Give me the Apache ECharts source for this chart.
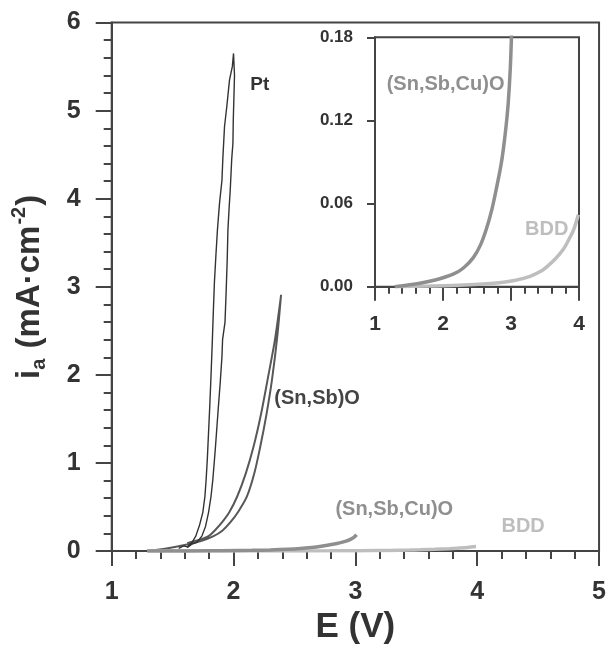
<!DOCTYPE html>
<html>
<head>
<meta charset="utf-8">
<script src="https://cdn.jsdelivr.net/npm/echarts@6/dist/echarts.min.js"></script>
<style>html,body{margin:0;padding:0;background:#fff}#c{width:609px;height:650px}</style>
</head>
<body>
<div id="c"></div>
<script>
// ---- data (E in V, i in mA/cm2) ----
const ptLoop = [
  [1.55,0.03],[1.59,0.06],[1.62,0.05],[1.66,0.10],[1.69,0.17],[1.72,0.29],[1.748,0.44],[1.765,0.62],[1.775,0.81],
  [1.785,1.05],[1.795,1.35],[1.805,1.65],[1.814,1.95],[1.825,2.35],[1.835,2.75],[1.843,3.05],[1.855,3.35],
  [1.868,3.65],[1.885,3.95],[1.905,4.21],[1.912,4.45],[1.926,4.82],[1.945,5.05],
  [1.967,5.35],[1.99,5.5],[2.0,5.65],[2.008,5.4],[2.004,5.2],[1.998,4.9],[1.995,4.63],[1.985,4.45],
  [1.973,4.10],[1.964,3.9],[1.954,3.65],[1.948,3.3],[1.94,2.97],[1.93,2.6],[1.91,2.4],[1.905,2.21],
  [1.89,1.9],[1.872,1.57],[1.85,1.15],[1.83,0.81],[1.815,0.62],[1.795,0.44],[1.77,0.28],[1.74,0.17],
  [1.70,0.10],[1.66,0.08],[1.62,0.04]
];
const snsbLoop = [
  [1.30,0.0],[1.45,0.03],[1.60,0.07],[1.726,0.11],[1.836,0.17],[1.91,0.235],[1.973,0.325],[2.04,0.45],
  [2.11,0.62],[2.17,0.88],[2.22,1.19],[2.27,1.55],[2.316,1.95],[2.36,2.45],[2.39,2.91],[2.385,2.85],
  [2.34,2.4],[2.28,1.95],[2.225,1.55],[2.165,1.19],[2.10,0.88],[2.03,0.62],[1.965,0.44],[1.905,0.325],
  [1.85,0.24],[1.795,0.17],[1.70,0.12],[1.62,0.09]
];
const snsbcu = [
  [1.29,0],[1.66,0.0025],[1.9,0.005],[2.15,0.009],[2.3,0.0135],[2.446,0.021],[2.55,0.03],
  [2.64,0.042],[2.72,0.056],[2.79,0.072],[2.85,0.087],[2.887,0.099],[2.93,0.117],[2.96,0.133],
  [2.99,0.158],[3.01,0.185]
];
const bdd = [
  [1.30,0],[1.8,0.0005],[2.3,0.0012],[2.79,0.0026],[3.05,0.0045],[3.28,0.0075],[3.45,0.0115],
  [3.53,0.0145],[3.65,0.02],[3.77,0.027],[3.85,0.034],[3.92,0.041],[3.99,0.052]
];
const mainXTicks = [1, 5, 1];      // min, max, interval
const mainYTicks = [0, 6, 1];
const insetXTicks = [1, 4, 1];
const insetYTicks = [0, 0.18, 0.06];
const seriesNames = ['Pt', '(Sn,Sb)O', '(Sn,Sb,Cu)O', 'BDD'];

const FONT = 'Liberation Sans, Arial, sans-serif';
const AX = '#444';
const TXT = '#333';
const colPt = '#333333', colSnSb = '#585858', colCu = '#8f8f8f', colBDD = '#bebebe';

function axisCommon(range, labelSize, tickLen, minorLen, margin, minor) {
  return {
    type: 'value', min: range[0], max: range[1], interval: range[2],
    axisLine: {show: true, onZero: false, lineStyle: {color: AX, width: 2}},
    axisTick: {show: true, inside: false, length: tickLen, lineStyle: {color: AX, width: 2}},
    minorTick: {show: minor, splitNumber: 5, length: minorLen, lineStyle: {color: AX, width: 2}},
    splitLine: {show: false}, minorSplitLine: {show: false},
    axisLabel: {color: TXT, fontFamily: FONT, fontWeight: 'bold', fontSize: labelSize, margin: margin}
  };
}
function lab(text, coord, color, size) {
  return {coord: coord, symbolSize: 0, label: {show: true, position: 'right', distance: 0,
    formatter: text, color: color, fontFamily: FONT, fontWeight: 'bold', fontSize: size}};
}
const lineBase = {type: 'line', showSymbol: false, symbol: 'none', animation: false};

const chart = echarts.init(document.getElementById('c'), null, {renderer: 'canvas'});
const option = {
  backgroundColor: '#fff',
  animation: false,
  grid: [
    {left: 111.7, right: 7, top: 22.6, bottom: 98.3, show: true, borderColor: AX, borderWidth: 2, containLabel: false},
    {left: 375, right: 30, top: 37.3, bottom: 363.3, show: true, borderColor: AX, borderWidth: 2, containLabel: false}
  ],
  xAxis: [
    Object.assign(axisCommon(mainXTicks, 25, 15, 8, 29, true), {gridIndex: 0,
      name: 'E (V)', nameLocation: 'middle', nameGap: 58,
      nameTextStyle: {color: TXT, fontFamily: FONT, fontWeight: 'bold', fontSize: 35}}),
    Object.assign(axisCommon(insetXTicks, 21, 14, 7, 27, true), {gridIndex: 1})
  ],
  yAxis: [
    Object.assign(axisCommon(mainYTicks, 25, 16, 8, 31, true), {gridIndex: 0,
      name: '{b|i}{sub|a}{b| (mA·cm}{sup|-2}{b|)}', nameLocation: 'middle', nameGap: 62, nameRotate: 90,
      nameTextStyle: {color: TXT, fontFamily: FONT, fontWeight: 'bold', fontSize: 33,
        rich: {
          b: {color: TXT, fontFamily: FONT, fontWeight: 'bold', fontSize: 33, lineHeight: 40, verticalAlign: 'middle'},
          sub: {color: TXT, fontFamily: FONT, fontWeight: 'bold', fontSize: 20, lineHeight: 40, verticalAlign: 'bottom', padding: [0, 1, 0, 0]},
          sup: {color: TXT, fontFamily: FONT, fontWeight: 'bold', fontSize: 20, lineHeight: 40, verticalAlign: 'top', padding: [0, 1, 0, 1]}
        }}}),
    Object.assign(axisCommon(insetYTicks, 17, 8, 4, 22, false), {gridIndex: 1,
      axisLabel: {color: TXT, fontFamily: FONT, fontWeight: 'bold', fontSize: 17, margin: 22,
        formatter: v => v.toFixed(2)}})
  ],
  series: [
    Object.assign({}, lineBase, {name: seriesNames[1], xAxisIndex: 0, yAxisIndex: 0, data: snsbLoop,
      smooth: 0.3, lineStyle: {color: colSnSb, width: 2},
      markPoint: {animation: false, data: [lab('(Sn,Sb)O', [2.335, 1.73], '#444', 20)]}}),
    Object.assign({}, lineBase, {name: seriesNames[0], xAxisIndex: 0, yAxisIndex: 0, data: ptLoop,
      smooth: false, lineStyle: {color: colPt, width: 1.4},
      markPoint: {animation: false, data: [lab('Pt', [2.137, 5.29], '#333', 19)]}}),
    Object.assign({}, lineBase, {name: seriesNames[3], xAxisIndex: 0, yAxisIndex: 0, data: bdd,
      smooth: 0.3, lineStyle: {color: colBDD, width: 3.5},
      markPoint: {animation: false, data: [lab('BDD', [4.199, 0.274], colBDD, 20)]}}),
    Object.assign({}, lineBase, {name: seriesNames[2], xAxisIndex: 0, yAxisIndex: 0, data: snsbcu,
      smooth: 0.3, lineStyle: {color: colCu, width: 3.5},
      markPoint: {animation: false, data: [lab('(Sn,Sb,Cu)O', [2.836, 0.473], colCu, 20)]}}),
    Object.assign({}, lineBase, {name: seriesNames[3] + ' inset', xAxisIndex: 1, yAxisIndex: 1, data: bdd,
      smooth: 0.3, lineStyle: {color: colBDD, width: 3.5}, clip: true,
      markPoint: {animation: false, data: [lab('BDD', [3.206, 0.0416], colBDD, 20)]}}),
    Object.assign({}, lineBase, {name: seriesNames[2] + ' inset', xAxisIndex: 1, yAxisIndex: 1, data: snsbcu,
      smooth: 0.3, lineStyle: {color: colCu, width: 3.5}, clip: true,
      markPoint: {animation: false, data: [lab('(Sn,Sb,Cu)O', [1.172, 0.1463], colCu, 20)]}})
  ]
};
chart.setOption(option);
</script>
</body>
</html>
